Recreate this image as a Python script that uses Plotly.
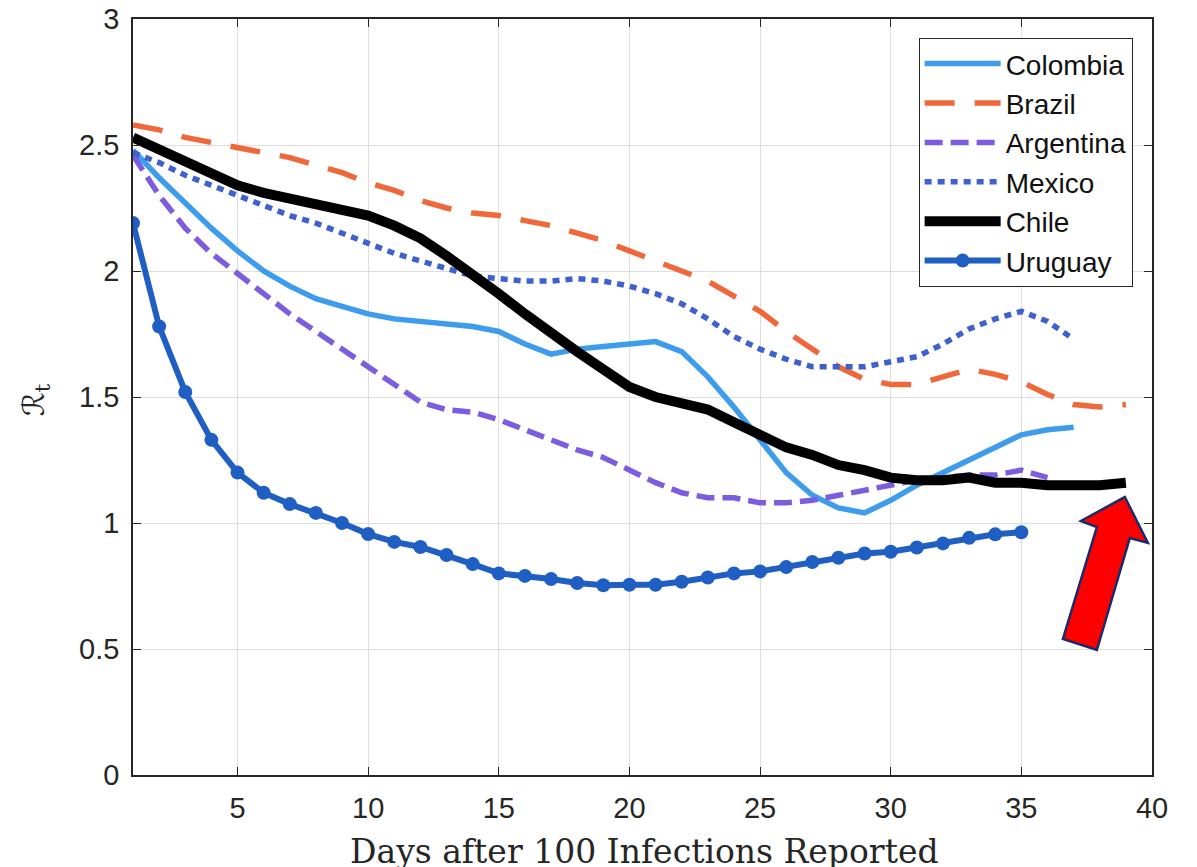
import plotly.graph_objects as go

days_col = list(range(1, 38))
colombia = [2.48, 2.37, 2.27, 2.17, 2.08, 2.00, 1.94, 1.89, 1.86, 1.83, 1.81, 1.80, 1.79, 1.78,
            1.76, 1.71, 1.67, 1.69, 1.70, 1.71, 1.72, 1.68, 1.58, 1.46, 1.33, 1.20, 1.11, 1.06,
            1.04, 1.09, 1.15, 1.20, 1.25, 1.30, 1.35, 1.37, 1.38]

days_bra = list(range(1, 40))
brazil = [2.58, 2.56, 2.53, 2.51, 2.49, 2.47, 2.45, 2.42, 2.39, 2.35, 2.32, 2.28, 2.25, 2.23,
          2.22, 2.20, 2.18, 2.15, 2.12, 2.08, 2.04, 2.00, 1.96, 1.90, 1.84, 1.76, 1.69, 1.62,
          1.57, 1.55, 1.55, 1.58, 1.61, 1.59, 1.56, 1.51, 1.47, 1.46, 1.47]

days_arg = list(range(1, 37))
argentina = [2.46, 2.30, 2.17, 2.07, 1.99, 1.91, 1.83, 1.76, 1.69, 1.62, 1.55, 1.48, 1.45, 1.44,
             1.41, 1.37, 1.33, 1.29, 1.26, 1.21, 1.16, 1.12, 1.10, 1.10, 1.08, 1.08, 1.09, 1.11,
             1.13, 1.15, 1.17, 1.18, 1.19, 1.19, 1.21, 1.18]

days_mex = list(range(1, 38))
mexico = [2.47, 2.43, 2.38, 2.34, 2.30, 2.26, 2.22, 2.19, 2.15, 2.11, 2.07, 2.04, 2.01, 1.98,
          1.97, 1.96, 1.96, 1.97, 1.96, 1.94, 1.91, 1.87, 1.81, 1.74, 1.69, 1.65, 1.62, 1.62,
          1.62, 1.64, 1.66, 1.71, 1.77, 1.81, 1.84, 1.80, 1.73]

days_chi = list(range(1, 40))
chile = [2.53, 2.48, 2.43, 2.38, 2.34, 2.31, 2.29, 2.27, 2.24, 2.22, 2.18, 2.13, 2.06, 1.99,
         1.91, 1.83, 1.75, 1.68, 1.61, 1.54, 1.50, 1.47, 1.45, 1.40, 1.35, 1.30, 1.27, 1.23,
         1.21, 1.18, 1.17, 1.17, 1.18, 1.16, 1.16, 1.15, 1.15, 1.15, 1.16]

days_uru = list(range(1, 36))
uruguay = [2.19, 1.78, 1.52, 1.33, 1.20, 1.12, 1.075, 1.04, 1.00, 0.956, 0.925, 0.905, 0.873,
           0.837, 0.80, 0.79, 0.778, 0.762, 0.753, 0.755, 0.755, 0.767, 0.784, 0.80, 0.808,
           0.825, 0.845, 0.862, 0.879, 0.886, 0.903, 0.919, 0.941, 0.955, 0.963]

# annotation arrow outline (data coordinates)
arrow_x = [38.96, 39.84, 39.15, 37.89, 36.59, 37.89, 37.28]
arrow_y = [1.103, 0.921, 0.940, 0.496, 0.540, 0.984, 1.008]

x_ticks = [5, 10, 15, 20, 25, 30, 35, 40]
y_ticks = [0, 0.5, 1, 1.5, 2, 2.5, 3]

fig = go.Figure()
fig.add_trace(go.Scatter(x=days_col, y=colombia, name="Colombia", mode="lines",
                         line=dict(color="#3d9cec", width=5.5)))
fig.add_trace(go.Scatter(x=days_bra, y=brazil, name="Brazil", mode="lines",
                         line=dict(color="#f0683a", width=5.5, dash="30px,20px")))
fig.add_trace(go.Scatter(x=days_arg, y=argentina, name="Argentina", mode="lines",
                         line=dict(color="#7c5de0", width=5.5, dash="18px,8px")))
fig.add_trace(go.Scatter(x=days_mex, y=mexico, name="Mexico", mode="lines",
                         line=dict(color="#3f60cf", width=5.5, dash="7px,6px")))
fig.add_trace(go.Scatter(x=days_chi, y=chile, name="Chile", mode="lines",
                         line=dict(color="#000000", width=10)))
fig.add_trace(go.Scatter(x=days_uru, y=uruguay, name="Uruguay", mode="lines+markers",
                         line=dict(color="#1f5fc4", width=6),
                         marker=dict(color="#1f5fc4", size=14, symbol="circle")))

path = "M " + " L ".join(f"{x},{y}" for x, y in zip(arrow_x, arrow_y)) + " Z"
fig.add_shape(type="path", path=path, xref="x", yref="y",
              fillcolor="#ff0000", line=dict(color="#1b2a6b", width=2.5), layer="above")

axis_common = dict(showgrid=True, gridcolor="#dedede", gridwidth=1, automargin=False,
                   showline=True, linecolor="#262626", linewidth=1.5, mirror="ticks",
                   ticks="inside", ticklen=8, tickcolor="#262626", tickwidth=1.2,
                   zeroline=False, ticklabeloverflow="allow",
                   tickfont=dict(family="Liberation Sans, Arial, sans-serif", size=29, color="#262626"))

fig.update_layout(
    width=1189, height=859,
    margin=dict(l=125, r=45, t=11, b=92, autoexpand=False),
    paper_bgcolor="white", plot_bgcolor="white",
    xaxis=dict(range=[1, 40], tickvals=x_ticks, ticklabelstandoff=6, **axis_common),
    yaxis=dict(range=[0, 3], tickvals=y_ticks, ticklabelstandoff=6, **axis_common),
    showlegend=True,
    legend=dict(x=0.981, y=0.975, xanchor="right", yanchor="top",
                bgcolor="white", bordercolor="#262626", borderwidth=1,
                font=dict(family="Liberation Sans, Arial, sans-serif", size=28, color="#111111"),
                itemwidth=76, tracegroupgap=0),
    annotations=[
        dict(text="Days after 100 Infections Reported", xref="paper", yref="paper",
             x=0.5015, y=-0.101, xanchor="center", yanchor="middle", showarrow=False,
             font=dict(family="DejaVu Serif, serif", size=33, color="#262626")),
        dict(text="ℛ<sub>t</sub>", xref="paper", yref="paper",
             x=-0.096, y=0.496, xanchor="center", yanchor="middle", showarrow=False,
             textangle=-90,
             font=dict(family="DejaVu Serif, DejaVu Sans, serif", size=30, color="#262626")),
    ],
)

fig.write_html("out.html")
